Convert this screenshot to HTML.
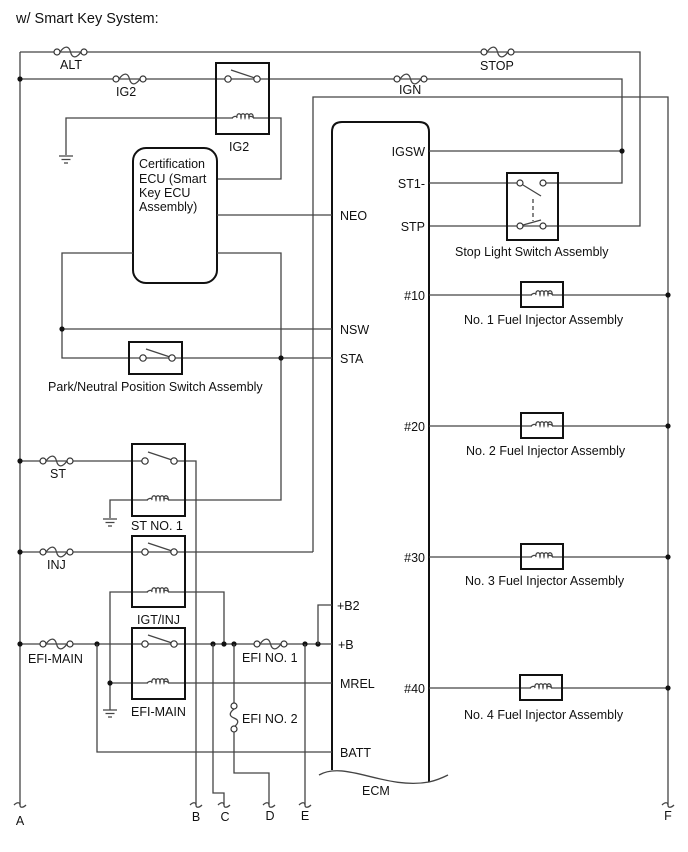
<!DOCTYPE html>
<html><head><meta charset="utf-8"><style>
html,body{margin:0;padding:0;background:#fff;}
svg{display:block;font-family:"Liberation Sans",Arial,sans-serif;}
text{font-size:12.5px;fill:#111;}
.w{stroke:#444;stroke-width:1.3;fill:none;}
.b{stroke:#111;stroke-width:2;fill:none;}
.c{stroke:#333;stroke-width:1.2;fill:#fff;}
.d{fill:#111;}
</style></head><body>
<svg width="688" height="852" viewBox="0 0 688 852" xmlns="http://www.w3.org/2000/svg">
<defs>
<g id="fh"><path class="w" d="M3,0 C8,-7 12,-6 13.5,0 C15,6 19,7 24,0"/><circle class="c" cx="0" cy="0" r="3"/><circle class="c" cx="27" cy="0" r="3"/></g>
<g id="coil"><rect x="-10" y="-5" width="20" height="9" fill="#fff"/><path class="w" stroke="#222" d="M-11,0 C-9,-2 -7,-2 -6,-1 M-6,0 a2.2,3 0 1 1 4,0 a2.2,3 0 1 1 4,0 a2.2,3 0 1 1 4,0 a2.2,3 0 1 1 4,0 M6,-1 C7,-2 9,-2 11,0"/></g>
<g id="gnd"><path class="w" d="M-7,0 H7 M-4.5,3.5 H4.5 M-2,7 H2"/></g>
<g id="sw"><line class="w" x1="3" y1="-9" x2="27" y2="-1"/><circle class="c" cx="0" cy="0" r="3.2"/><circle class="c" cx="29" cy="0" r="3.2"/></g>
<g id="brk"><path class="w" d="M-6,0 C-3,-3 0,-3 0,0 C0,3 3,3 6,0"/></g>
</defs>

<text x="16" y="23" style="font-size:14.5px">w/ Smart Key System:</text>

<line class="w" x1="20" y1="52" x2="20" y2="805"/>
<polyline class="w" points="20,52 640,52 640,226 429,226"/>
<use href="#fh" x="57" y="52"/>
<text x="60" y="69">ALT</text>
<use href="#fh" x="484" y="52"/>
<text x="480" y="70">STOP</text>
<polyline class="w" points="20,79 622,79 622,183 546,183"/>
<circle class="d" cx="20" cy="79" r="2.6"/>
<use href="#fh" x="116" y="79"/>
<text x="116" y="96">IG2</text>
<use href="#fh" x="397" y="79"/>
<text x="399" y="94">IGN</text>
<polyline class="w" points="66,155 66,118 281,118 281,179 217,179"/>
<rect class="b" x="216" y="63" width="53" height="71"/>
<use href="#sw" x="228" y="79"/>
<use href="#coil" x="243" y="118"/>
<use href="#gnd" x="66" y="156"/>
<text x="229" y="151">IG2</text>
<polyline class="w" points="313,552 313,97 668,97 668,805"/>
<path class="b" d="M332,770 V132 Q332,122 342,122 H419 Q429,122 429,132 V782"/>
<path class="w" stroke="#111" d="M319,775 C345,760 385,790 429,782 Q438,780 448,775"/>
<text x="362" y="795">ECM</text>
<rect class="b" x="133" y="148" width="84" height="135" rx="13" stroke-width="1.8"/>
<text x="139" y="168">Certification</text>
<text x="139" y="183">ECU (Smart</text>
<text x="139" y="197">Key ECU</text>
<text x="139" y="211">Assembly)</text>
<line class="w" x1="217" y1="215" x2="332" y2="215"/>
<text x="340" y="220">NEO</text>
<polyline class="w" points="133,253 62,253 62,358 332,358"/>
<polyline class="w" points="217,253 281,253 281,500 110,500 110,518"/>
<line class="w" x1="62" y1="329" x2="332" y2="329"/>
<circle class="d" cx="62" cy="329" r="2.6"/>
<circle class="d" cx="281" cy="358" r="2.6"/>
<text x="340" y="334">NSW</text>
<text x="340" y="363">STA</text>
<rect class="b" x="129" y="342" width="53" height="32" fill="#fff"/>
<use href="#sw" x="143" y="358"/>
<text x="48" y="391">Park/Neutral Position Switch Assembly</text>
<line class="w" x1="429" y1="151" x2="622" y2="151"/>
<circle class="d" cx="622" cy="151" r="2.6"/>
<line class="w" x1="429" y1="183" x2="517" y2="183"/>
<text x="425" y="156" text-anchor="end">IGSW</text>
<text x="425" y="188" text-anchor="end">ST1-</text>
<text x="425" y="231" text-anchor="end">STP</text>
<rect class="b" x="507" y="173" width="51" height="67" fill="#fff"/>
<line class="w" x1="523" y1="185" x2="541" y2="196"/>
<line class="w" x1="533" y1="199" x2="533" y2="221" stroke-dasharray="4,3"/>
<line class="w" x1="523" y1="225" x2="541" y2="220"/>
<circle class="c" cx="520" cy="183" r="3"/><circle class="c" cx="543" cy="183" r="3"/>
<circle class="c" cx="520" cy="226" r="3"/><circle class="c" cx="543" cy="226" r="3"/>
<text x="455" y="256">Stop Light Switch Assembly</text>
<g>
<line class="w" x1="429" y1="295" x2="668" y2="295"/><circle class="d" cx="668" cy="295" r="2.6"/>
<rect class="b" x="521" y="282" width="42" height="25" fill="#fff"/><use href="#coil" x="542" y="295"/>
<text x="425" y="300" text-anchor="end">#10</text><text x="464" y="324">No. 1 Fuel Injector Assembly</text>
<line class="w" x1="429" y1="426" x2="668" y2="426"/><circle class="d" cx="668" cy="426" r="2.6"/>
<rect class="b" x="521" y="413" width="42" height="25" fill="#fff"/><use href="#coil" x="542" y="426"/>
<text x="425" y="431" text-anchor="end">#20</text><text x="466" y="455">No. 2 Fuel Injector Assembly</text>
<line class="w" x1="429" y1="557" x2="668" y2="557"/><circle class="d" cx="668" cy="557" r="2.6"/>
<rect class="b" x="521" y="544" width="42" height="25" fill="#fff"/><use href="#coil" x="542" y="557"/>
<text x="425" y="562" text-anchor="end">#30</text><text x="465" y="585">No. 3 Fuel Injector Assembly</text>
<line class="w" x1="429" y1="688" x2="668" y2="688"/><circle class="d" cx="668" cy="688" r="2.6"/>
<rect class="b" x="520" y="675" width="42" height="25" fill="#fff"/><use href="#coil" x="541" y="688"/>
<text x="425" y="693" text-anchor="end">#40</text><text x="464" y="719">No. 4 Fuel Injector Assembly</text>
</g>
<line class="w" x1="20" y1="461" x2="145" y2="461"/>
<circle class="d" cx="20" cy="461" r="2.6"/>
<use href="#fh" x="43" y="461"/>
<text x="50" y="478">ST</text>
<polyline class="w" points="174,461 196,461 196,805"/>
<rect class="b" x="132" y="444" width="53" height="72"/>
<use href="#sw" x="145" y="461"/>
<use href="#coil" x="158" y="500"/>
<use href="#gnd" x="110" y="519"/>
<text x="131" y="530">ST NO. 1</text>
<line class="w" x1="20" y1="552" x2="313" y2="552"/>
<circle class="d" cx="20" cy="552" r="2.6"/>
<use href="#fh" x="43" y="552"/>
<text x="47" y="569">INJ</text>
<polyline class="w" points="110,710 110,592 224,592 224,644"/>
<rect class="b" x="132" y="536" width="53" height="71"/>
<use href="#sw" x="145" y="552"/>
<use href="#coil" x="158" y="592"/>
<text x="137" y="624">IGT/INJ</text>
<line class="w" x1="20" y1="644" x2="332" y2="644"/>
<circle class="d" cx="20" cy="644" r="2.6"/>
<use href="#fh" x="43" y="644"/>
<text x="28" y="663">EFI-MAIN</text>
<circle class="d" cx="97" cy="644" r="2.6"/>
<polyline class="w" points="97,644 97,752 332,752"/>
<text x="340" y="757">BATT</text>
<line class="w" x1="110" y1="683" x2="332" y2="683"/>
<rect class="b" x="132" y="628" width="53" height="71"/>
<use href="#sw" x="145" y="644"/>
<use href="#coil" x="158" y="683"/>
<circle class="d" cx="110" cy="683" r="2.6"/>
<use href="#gnd" x="110" y="710"/>
<text x="131" y="716">EFI-MAIN</text>
<text x="340" y="688">MREL</text>
<circle class="d" cx="213" cy="644" r="2.6"/>
<circle class="d" cx="224" cy="644" r="2.6"/>
<circle class="d" cx="234" cy="644" r="2.6"/>
<use href="#fh" x="257" y="644"/>
<text x="242" y="662">EFI NO. 1</text>
<circle class="d" cx="305" cy="644" r="2.6"/>
<circle class="d" cx="318" cy="644" r="2.6"/>
<polyline class="w" points="318,644 318,605 332,605"/>
<text x="337" y="610">+B2</text>
<text x="338" y="649">+B</text>
<polyline class="w" points="234,644 234,703"/>
<path class="w" d="M234,709 C229,713 229,716 234,718 C239,720 239,723 234,727"/>
<circle class="c" cx="234" cy="706" r="3"/><circle class="c" cx="234" cy="729" r="3"/>
<polyline class="w" points="234,732 234,773 269,773 269,805"/>
<text x="242" y="723">EFI NO. 2</text>
<polyline class="w" points="213,644 213,793 224,793 224,805"/>
<line class="w" x1="305" y1="644" x2="305" y2="805"/>
<use href="#brk" x="20" y="805"/><use href="#brk" x="196" y="805"/><use href="#brk" x="224" y="805"/>
<use href="#brk" x="269" y="805"/><use href="#brk" x="305" y="805"/><use href="#brk" x="668" y="805"/>
<text x="20" y="825" text-anchor="middle">A</text>
<text x="196" y="821" text-anchor="middle">B</text>
<text x="225" y="821" text-anchor="middle">C</text>
<text x="270" y="820" text-anchor="middle">D</text>
<text x="305" y="820" text-anchor="middle">E</text>
<text x="668" y="820" text-anchor="middle">F</text>
</svg>
</body></html>
